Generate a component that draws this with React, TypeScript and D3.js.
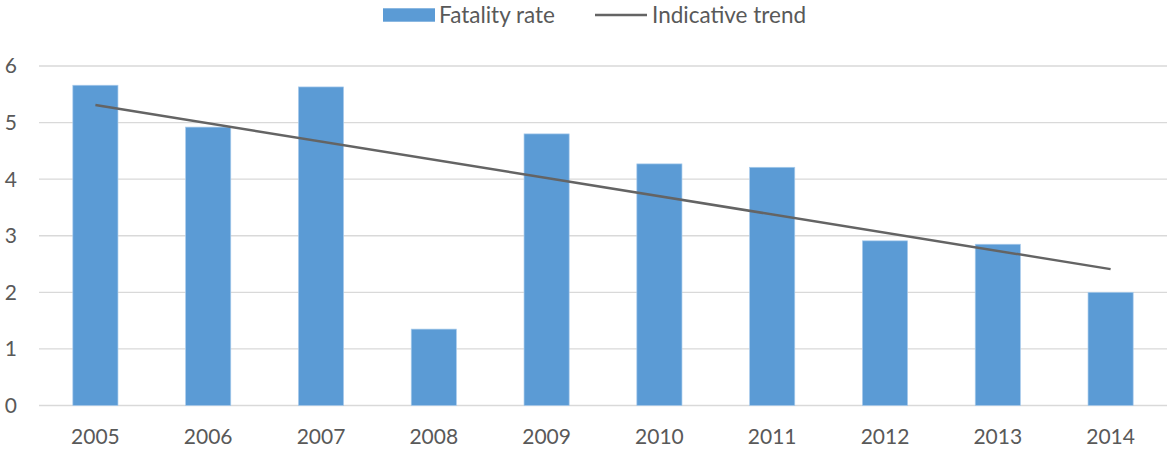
import React, { useEffect, useRef } from 'react';
import * as d3 from 'd3';

const years = ['2005', '2006', '2007', '2008', '2009', '2010', '2011', '2012', '2013', '2014'];
const fatalityRate = [5.66, 4.92, 5.63, 1.35, 4.8, 4.27, 4.21, 2.91, 2.85, 2.0];
// straight trend line: value at first year and at last year
const trendEnds = [5.31, 2.41];
const yTicks = [0, 1, 2, 3, 4, 5, 6];

const W = 1168;
const H = 452;
const FONT = 'Lato, "Open Sans", sans-serif';
const TEXT = '#595959';
const BAR = '#5B9BD5';
const LINE = '#646464';

export default function App() {
  const svgRef = useRef<SVGSVGElement>(null);

  useEffect(() => {
    document.body.style.margin = '0';
    if (!svgRef.current) return;
    const svg = d3.select(svgRef.current);
    svg.selectAll('*').remove();

    const mg = { top: 66, right: 1, bottom: 46.5, left: 39 };
    const x = d3.scaleBand<string>()
      .domain(years)
      .range([mg.left, W - mg.right])
      .paddingInner(0.6)
      .paddingOuter(0.3);
    const y = d3.scaleLinear().domain([0, 6]).range([H - mg.bottom, mg.top]);

    // gridlines
    svg.append('g')
      .selectAll('line')
      .data(yTicks)
      .enter()
      .append('line')
      .attr('x1', mg.left)
      .attr('x2', W - mg.right)
      .attr('y1', d => y(d))
      .attr('y2', d => y(d))
      .attr('stroke', '#D9D9D9')
      .attr('stroke-width', 1.3);

    // y labels
    svg.append('g')
      .selectAll('text')
      .data(yTicks)
      .enter()
      .append('text')
      .attr('x', 17)
      .attr('y', d => y(d))
      .attr('dy', '0.35em')
      .attr('text-anchor', 'end')
      .attr('font-family', FONT)
      .attr('font-size', 21)
      .attr('fill', TEXT)
      .text(d => d);

    // bars
    svg.append('g')
      .selectAll('rect')
      .data(fatalityRate)
      .enter()
      .append('rect')
      .attr('x', (_, i) => x(years[i])!)
      .attr('width', x.bandwidth())
      .attr('y', d => y(d))
      .attr('height', d => y(0) - y(d))
      .attr('fill', BAR)
      .attr('stroke', '#A8CBEB')
      .attr('stroke-width', 0.7);

    // x labels
    svg.append('g')
      .selectAll('text')
      .data(years)
      .enter()
      .append('text')
      .attr('x', d => x(d)! + x.bandwidth() / 2)
      .attr('y', 437)
      .attr('dy', '0.35em')
      .attr('text-anchor', 'middle')
      .attr('font-family', FONT)
      .attr('font-size', 21)
      .attr('fill', TEXT)
      .text(d => d);

    // trend line
    const cx = (yr: string) => x(yr)! + x.bandwidth() / 2;
    const trendPts: [number, number][] = [
      [cx(years[0]), y(trendEnds[0])],
      [cx(years[years.length - 1]), y(trendEnds[1])],
    ];
    svg.append('path')
      .attr('d', d3.line()(trendPts)!)
      .attr('fill', 'none')
      .attr('stroke', LINE)
      .attr('stroke-width', 2.5);

    // legend
    const lg = svg.append('g');
    lg.append('rect')
      .attr('x', 383).attr('y', 8.3).attr('width', 52).attr('height', 13.4)
      .attr('fill', BAR);
    lg.append('text')
      .attr('x', 439).attr('y', 15).attr('dy', '0.35em')
      .attr('font-family', FONT).attr('font-size', 22.5).attr('fill', TEXT)
      .text('Fatality rate');
    lg.append('line')
      .attr('x1', 595).attr('x2', 647).attr('y1', 15).attr('y2', 15)
      .attr('stroke', LINE).attr('stroke-width', 2.5);
    lg.append('text')
      .attr('x', 652).attr('y', 15).attr('dy', '0.35em')
      .attr('font-family', FONT).attr('font-size', 22.5).attr('fill', TEXT)
      .text('Indicative trend');
  }, []);

  return <svg ref={svgRef} width={W} height={H} style={{ display: 'block', background: '#fff' }} />;
}
